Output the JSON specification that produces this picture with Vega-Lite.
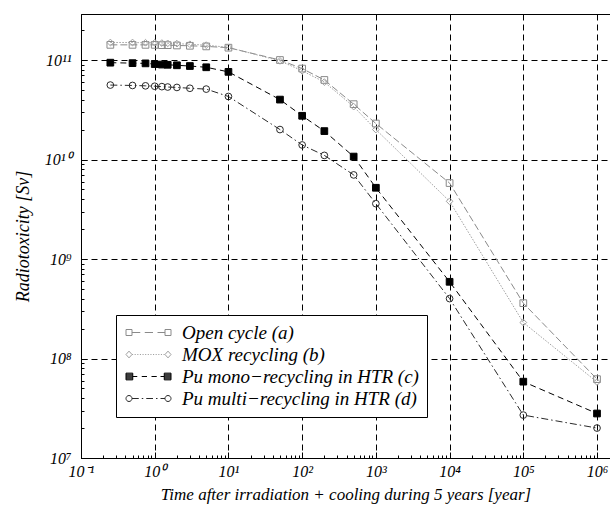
{
  "$schema": "https://vega.github.io/schema/vega-lite/v6.json",
  "autosize": {"type": "none"},
  "padding": {"left": 81, "top": 14, "right": 0, "bottom": 48},
  "width": 529,
  "height": 444,
  "background": "white",
  "config": {
    "view": {"stroke": "black", "strokeWidth": 1},
    "font": "Liberation Serif"
  },
  "data": {
    "values": [
      {"s": "Open cycle (a)", "t": 0.25, "v": 1.42e11},
      {"s": "Open cycle (a)", "t": 0.5, "v": 1.42e11},
      {"s": "Open cycle (a)", "t": 0.75, "v": 1.42e11},
      {"s": "Open cycle (a)", "t": 1, "v": 1.42e11},
      {"s": "Open cycle (a)", "t": 1.25, "v": 1.41e11},
      {"s": "Open cycle (a)", "t": 1.5, "v": 1.41e11},
      {"s": "Open cycle (a)", "t": 2, "v": 1.4e11},
      {"s": "Open cycle (a)", "t": 3, "v": 1.39e11},
      {"s": "Open cycle (a)", "t": 5, "v": 1.37e11},
      {"s": "Open cycle (a)", "t": 10, "v": 1.33e11},
      {"s": "Open cycle (a)", "t": 50, "v": 1.0e11},
      {"s": "Open cycle (a)", "t": 100, "v": 8.2e10},
      {"s": "Open cycle (a)", "t": 200, "v": 6.3e10},
      {"s": "Open cycle (a)", "t": 500, "v": 3.6e10},
      {"s": "Open cycle (a)", "t": 1000, "v": 2.3e10},
      {"s": "Open cycle (a)", "t": 10000, "v": 5.8e9},
      {"s": "Open cycle (a)", "t": 100000, "v": 3.6e8},
      {"s": "Open cycle (a)", "t": 1000000, "v": 6.2e7},
      {"s": "MOX recycling (b)", "t": 0.25, "v": 1.5e11},
      {"s": "MOX recycling (b)", "t": 0.5, "v": 1.5e11},
      {"s": "MOX recycling (b)", "t": 0.75, "v": 1.49e11},
      {"s": "MOX recycling (b)", "t": 1, "v": 1.49e11},
      {"s": "MOX recycling (b)", "t": 1.25, "v": 1.48e11},
      {"s": "MOX recycling (b)", "t": 1.5, "v": 1.47e11},
      {"s": "MOX recycling (b)", "t": 2, "v": 1.46e11},
      {"s": "MOX recycling (b)", "t": 3, "v": 1.44e11},
      {"s": "MOX recycling (b)", "t": 5, "v": 1.41e11},
      {"s": "MOX recycling (b)", "t": 10, "v": 1.34e11},
      {"s": "MOX recycling (b)", "t": 50, "v": 9.8e10},
      {"s": "MOX recycling (b)", "t": 100, "v": 7.8e10},
      {"s": "MOX recycling (b)", "t": 200, "v": 6.0e10},
      {"s": "MOX recycling (b)", "t": 500, "v": 3.4e10},
      {"s": "MOX recycling (b)", "t": 1000, "v": 2.0e10},
      {"s": "MOX recycling (b)", "t": 10000, "v": 3.8e9},
      {"s": "MOX recycling (b)", "t": 100000, "v": 2.3e8},
      {"s": "MOX recycling (b)", "t": 1000000, "v": 5.8e7},
      {"s": "Pu mono−recycling in HTR (c)", "t": 0.25, "v": 9.4e10},
      {"s": "Pu mono−recycling in HTR (c)", "t": 0.5, "v": 9.3e10},
      {"s": "Pu mono−recycling in HTR (c)", "t": 0.75, "v": 9.25e10},
      {"s": "Pu mono−recycling in HTR (c)", "t": 1, "v": 9.1e10},
      {"s": "Pu mono−recycling in HTR (c)", "t": 1.25, "v": 9.0e10},
      {"s": "Pu mono−recycling in HTR (c)", "t": 1.5, "v": 8.95e10},
      {"s": "Pu mono−recycling in HTR (c)", "t": 2, "v": 8.85e10},
      {"s": "Pu mono−recycling in HTR (c)", "t": 3, "v": 8.7e10},
      {"s": "Pu mono−recycling in HTR (c)", "t": 5, "v": 8.45e10},
      {"s": "Pu mono−recycling in HTR (c)", "t": 10, "v": 7.6e10},
      {"s": "Pu mono−recycling in HTR (c)", "t": 50, "v": 4.0e10},
      {"s": "Pu mono−recycling in HTR (c)", "t": 100, "v": 2.75e10},
      {"s": "Pu mono−recycling in HTR (c)", "t": 200, "v": 1.93e10},
      {"s": "Pu mono−recycling in HTR (c)", "t": 500, "v": 1.07e10},
      {"s": "Pu mono−recycling in HTR (c)", "t": 1000, "v": 5.2e9},
      {"s": "Pu mono−recycling in HTR (c)", "t": 10000, "v": 5.9e8},
      {"s": "Pu mono−recycling in HTR (c)", "t": 100000, "v": 5.85e7},
      {"s": "Pu mono−recycling in HTR (c)", "t": 1000000, "v": 2.8e7},
      {"s": "Pu multi−recycling in HTR (d)", "t": 0.25, "v": 5.6e10},
      {"s": "Pu multi−recycling in HTR (d)", "t": 0.5, "v": 5.55e10},
      {"s": "Pu multi−recycling in HTR (d)", "t": 0.75, "v": 5.5e10},
      {"s": "Pu multi−recycling in HTR (d)", "t": 1, "v": 5.45e10},
      {"s": "Pu multi−recycling in HTR (d)", "t": 1.25, "v": 5.4e10},
      {"s": "Pu multi−recycling in HTR (d)", "t": 1.5, "v": 5.35e10},
      {"s": "Pu multi−recycling in HTR (d)", "t": 2, "v": 5.3e10},
      {"s": "Pu multi−recycling in HTR (d)", "t": 3, "v": 5.2e10},
      {"s": "Pu multi−recycling in HTR (d)", "t": 5, "v": 5.1e10},
      {"s": "Pu multi−recycling in HTR (d)", "t": 10, "v": 4.3e10},
      {"s": "Pu multi−recycling in HTR (d)", "t": 50, "v": 2.0e10},
      {"s": "Pu multi−recycling in HTR (d)", "t": 100, "v": 1.4e10},
      {"s": "Pu multi−recycling in HTR (d)", "t": 200, "v": 1.1e10},
      {"s": "Pu multi−recycling in HTR (d)", "t": 500, "v": 7.0e9},
      {"s": "Pu multi−recycling in HTR (d)", "t": 1000, "v": 3.6e9},
      {"s": "Pu multi−recycling in HTR (d)", "t": 10000, "v": 4.0e8},
      {"s": "Pu multi−recycling in HTR (d)", "t": 100000, "v": 2.7e7},
      {"s": "Pu multi−recycling in HTR (d)", "t": 1000000, "v": 2.0e7}
    ]
  },
  "encoding": {
    "x": {
      "field": "t",
      "type": "quantitative",
      "scale": {"type": "log", "domain": [0.1, 1500000], "nice": false},
      "axis": {
        "title": "Time after irradiation + cooling during 5 years [year]",
        "titleFont": "Liberation Serif",
        "titleFontStyle": "italic",
        "titleFontWeight": "normal",
        "titleFontSize": 17,
        "titleColor": "black",
        "titlePadding": 4,
        "values": [0.1,0.2,0.3,0.4,0.5,0.6,0.7,0.8,0.9,1,2,3,4,5,6,7,8,9,10,20,30,40,50,60,70,80,90,100,200,300,400,500,600,700,800,900,1000,2000,3000,4000,5000,6000,7000,8000,9000,10000,20000,30000,40000,50000,60000,70000,80000,90000,100000,200000,300000,400000,500000,600000,700000,800000,900000,1000000],
        "labelExpr": "abs(log(datum.value)/LN10 - round(log(datum.value)/LN10)) > 0.001 ? '' : (round(log(datum.value)/LN10) == -1 ? '10⁻¹' : round(log(datum.value)/LN10) == 0 ? '10⁰' : round(log(datum.value)/LN10) == 1 ? '10¹' : round(log(datum.value)/LN10) == 2 ? '10²' : round(log(datum.value)/LN10) == 3 ? '10³' : round(log(datum.value)/LN10) == 4 ? '10⁴' : round(log(datum.value)/LN10) == 5 ? '10⁵' : '10⁶')",
        "labelFont": "Liberation Serif",
        "labelFontStyle": "italic",
        "labelFontSize": 16,
        "labelColor": "black",
        "labelOverlap": false,
        "labelFlush": false,
        "labelPadding": 11,
        "grid": true,
        "gridColor": "black",
        "gridDash": [6, 4],
        "gridWidth": 1,
        "gridOpacity": {"condition": {"test": "abs(log(datum.value)/LN10 - round(log(datum.value)/LN10)) < 0.001", "value": 1}, "value": 0},
        "tickColor": "black",
        "tickSize": {"condition": {"test": "abs(log(datum.value)/LN10 - round(log(datum.value)/LN10)) < 0.001", "value": -6}, "value": -3},
        "domainColor": "black"
      }
    },
    "y": {
      "field": "v",
      "type": "quantitative",
      "scale": {"type": "log", "domain": [10000000, 290000000000], "nice": false},
      "axis": {
        "title": "Radiotoxicity [Sv]",
        "titleFont": "Liberation Serif",
        "titleFontStyle": "italic",
        "titleFontWeight": "normal",
        "titleFontSize": 18,
        "titleColor": "black",
        "titlePadding": 12,
        "values": [10000000,20000000,30000000,40000000,50000000,60000000,70000000,80000000,90000000,100000000,200000000,300000000,400000000,500000000,600000000,700000000,800000000,900000000,1000000000,2000000000,3000000000,4000000000,5000000000,6000000000,7000000000,8000000000,9000000000,10000000000,20000000000,30000000000,40000000000,50000000000,60000000000,70000000000,80000000000,90000000000,100000000000,200000000000],
        "labelExpr": "abs(log(datum.value)/LN10 - round(log(datum.value)/LN10)) > 0.001 ? '' : (round(log(datum.value)/LN10) == 7 ? '10⁷' : round(log(datum.value)/LN10) == 8 ? '10⁸' : round(log(datum.value)/LN10) == 9 ? '10⁹' : round(log(datum.value)/LN10) == 10 ? '10¹⁰' : '10¹¹')",
        "labelFont": "Liberation Serif",
        "labelFontStyle": "italic",
        "labelFontSize": 16,
        "labelColor": "black",
        "labelOverlap": false,
        "labelFlush": false,
        "labelPadding": 16,
        "grid": true,
        "gridColor": "black",
        "gridDash": [6, 4],
        "gridWidth": 1,
        "gridOpacity": {"condition": {"test": "abs(log(datum.value)/LN10 - round(log(datum.value)/LN10)) < 0.001", "value": 1}, "value": 0},
        "tickColor": "black",
        "tickSize": {"condition": {"test": "abs(log(datum.value)/LN10 - round(log(datum.value)/LN10)) < 0.001", "value": -6}, "value": -3},
        "domainColor": "black"
      }
    }
  },
  "layer": [
    {
      "mark": {"type": "line", "clip": true},
      "encoding": {
        "color": {"field": "s", "type": "nominal", "scale": {"domain": ["Open cycle (a)", "MOX recycling (b)", "Pu mono−recycling in HTR (c)", "Pu multi−recycling in HTR (d)"], "range": ["#8a8a8a", "#a0a0a0", "#000000", "#2a2a2a"]}, "legend": null},
        "strokeDash": {"field": "s", "type": "nominal", "scale": {"domain": ["Open cycle (a)", "MOX recycling (b)", "Pu mono−recycling in HTR (c)", "Pu multi−recycling in HTR (d)"], "range": [[7, 3], [1.5, 1.5], [6, 4], [7, 3, 1.5, 3]]}, "legend": null},
        "strokeWidth": {"field": "s", "type": "nominal", "scale": {"domain": ["Open cycle (a)", "MOX recycling (b)", "Pu mono−recycling in HTR (c)", "Pu multi−recycling in HTR (d)"], "range": [1, 1, 1.6, 1.1]}, "legend": null}
      }
    },
    {
      "mark": {"type": "point", "filled": false, "size": 45, "strokeWidth": 1, "opacity": 1},
      "encoding": {
        "color": {"field": "s", "type": "nominal", "scale": {"domain": ["Open cycle (a)", "MOX recycling (b)", "Pu mono−recycling in HTR (c)", "Pu multi−recycling in HTR (d)"], "range": ["#8a8a8a", "#a0a0a0", "#000000", "#2a2a2a"]}, "legend": null},
        "shape": {"field": "s", "type": "nominal", "scale": {"domain": ["Open cycle (a)", "MOX recycling (b)", "Pu mono−recycling in HTR (c)", "Pu multi−recycling in HTR (d)"], "range": ["square", "diamond", "square", "circle"]}, "legend": null},
        "fill": {"field": "s", "type": "nominal", "scale": {"domain": ["Open cycle (a)", "MOX recycling (b)", "Pu mono−recycling in HTR (c)", "Pu multi−recycling in HTR (d)"], "range": ["transparent", "transparent", "#000000", "transparent"]}, "legend": null}
      }
    },
    {
      "mark": {"type": "point", "opacity": 0, "filled": false},
      "encoding": {
        "color": {
          "field": "s",
          "type": "nominal",
          "scale": {"domain": ["Open cycle (a)", "MOX recycling (b)", "Pu mono−recycling in HTR (c)", "Pu multi−recycling in HTR (d)"], "range": ["#8a8a8a", "#a0a0a0", "#000000", "#2a2a2a"]},
          "legend": {"title": null}
        },
        "shape": {
          "field": "s",
          "type": "nominal",
          "scale": {
            "domain": ["Open cycle (a)", "MOX recycling (b)", "Pu mono−recycling in HTR (c)", "Pu multi−recycling in HTR (d)"],
            "range": [
              "M-3,-0.4H-2.2V0.4H-3Z M2.2,-0.4H3V0.4H2.2Z M-2.2,0H-1.1M-0.5,0H0.6M1.2,0H2.2",
              "M-2.6,-0.45L-2.2,0L-2.6,0.45L-3,0Z M2.6,-0.45L3,0L2.6,0.45L2.2,0Z M-2.2,0H-2.05M-1.85,0H-1.7M-1.5,0H-1.35M-1.15,0H-1M-0.8,0H-0.65M-0.45,0H-0.3M-0.1,0H0.05M0.25,0H0.4M0.6,0H0.75M0.95,0H1.1M1.3,0H1.45M1.65,0H1.8M2,0H2.15",
              "M-3,-0.45H-2.1V0.45H-3Z M2.1,-0.45H3V0.45H2.1Z M-3,-0.32H-2.1M-3,-0.19H-2.1M-3,-0.06H-2.1M-3,0.07H-2.1M-3,0.2H-2.1M-3,0.33H-2.1M2.1,-0.32H3M2.1,-0.19H3M2.1,-0.06H3M2.1,0.07H3M2.1,0.2H3M2.1,0.33H3 M-2.1,0H-1.5M-0.9,0H-0.2M0.4,0H1.1M1.6,0H2.1",
              "M-3,0A0.4,0.4 0 1,0 -2.2,0A0.4,0.4 0 1,0 -3,0Z M2.2,0A0.4,0.4 0 1,0 3,0A0.4,0.4 0 1,0 2.2,0Z M-2.2,0H-1.3M-0.9,0H-0.7M-0.3,0H0.6M1.0,0H1.2M1.6,0H2.2"
            ]
          },
          "legend": {
            "title": null,
            "orient": "none",
            "legendX": 35,
            "legendY": 301,
            "direction": "vertical",
            "fillColor": "white",
            "strokeColor": "black",
            "padding": 8,
            "symbolSize": 225,
            "symbolOffset": 15,
            "symbolStrokeWidth": 1,
            "symbolOpacity": 1,
            "labelFont": "Liberation Serif",
            "labelFontStyle": "italic",
            "labelFontSize": 19,
            "labelColor": "black",
            "labelOffset": 24,
            "labelLimit": 400,
            "rowPadding": 2
          }
        }
      }
    }
  ],
  "resolve": {"scale": {"shape": "independent", "color": "independent"}}
}
